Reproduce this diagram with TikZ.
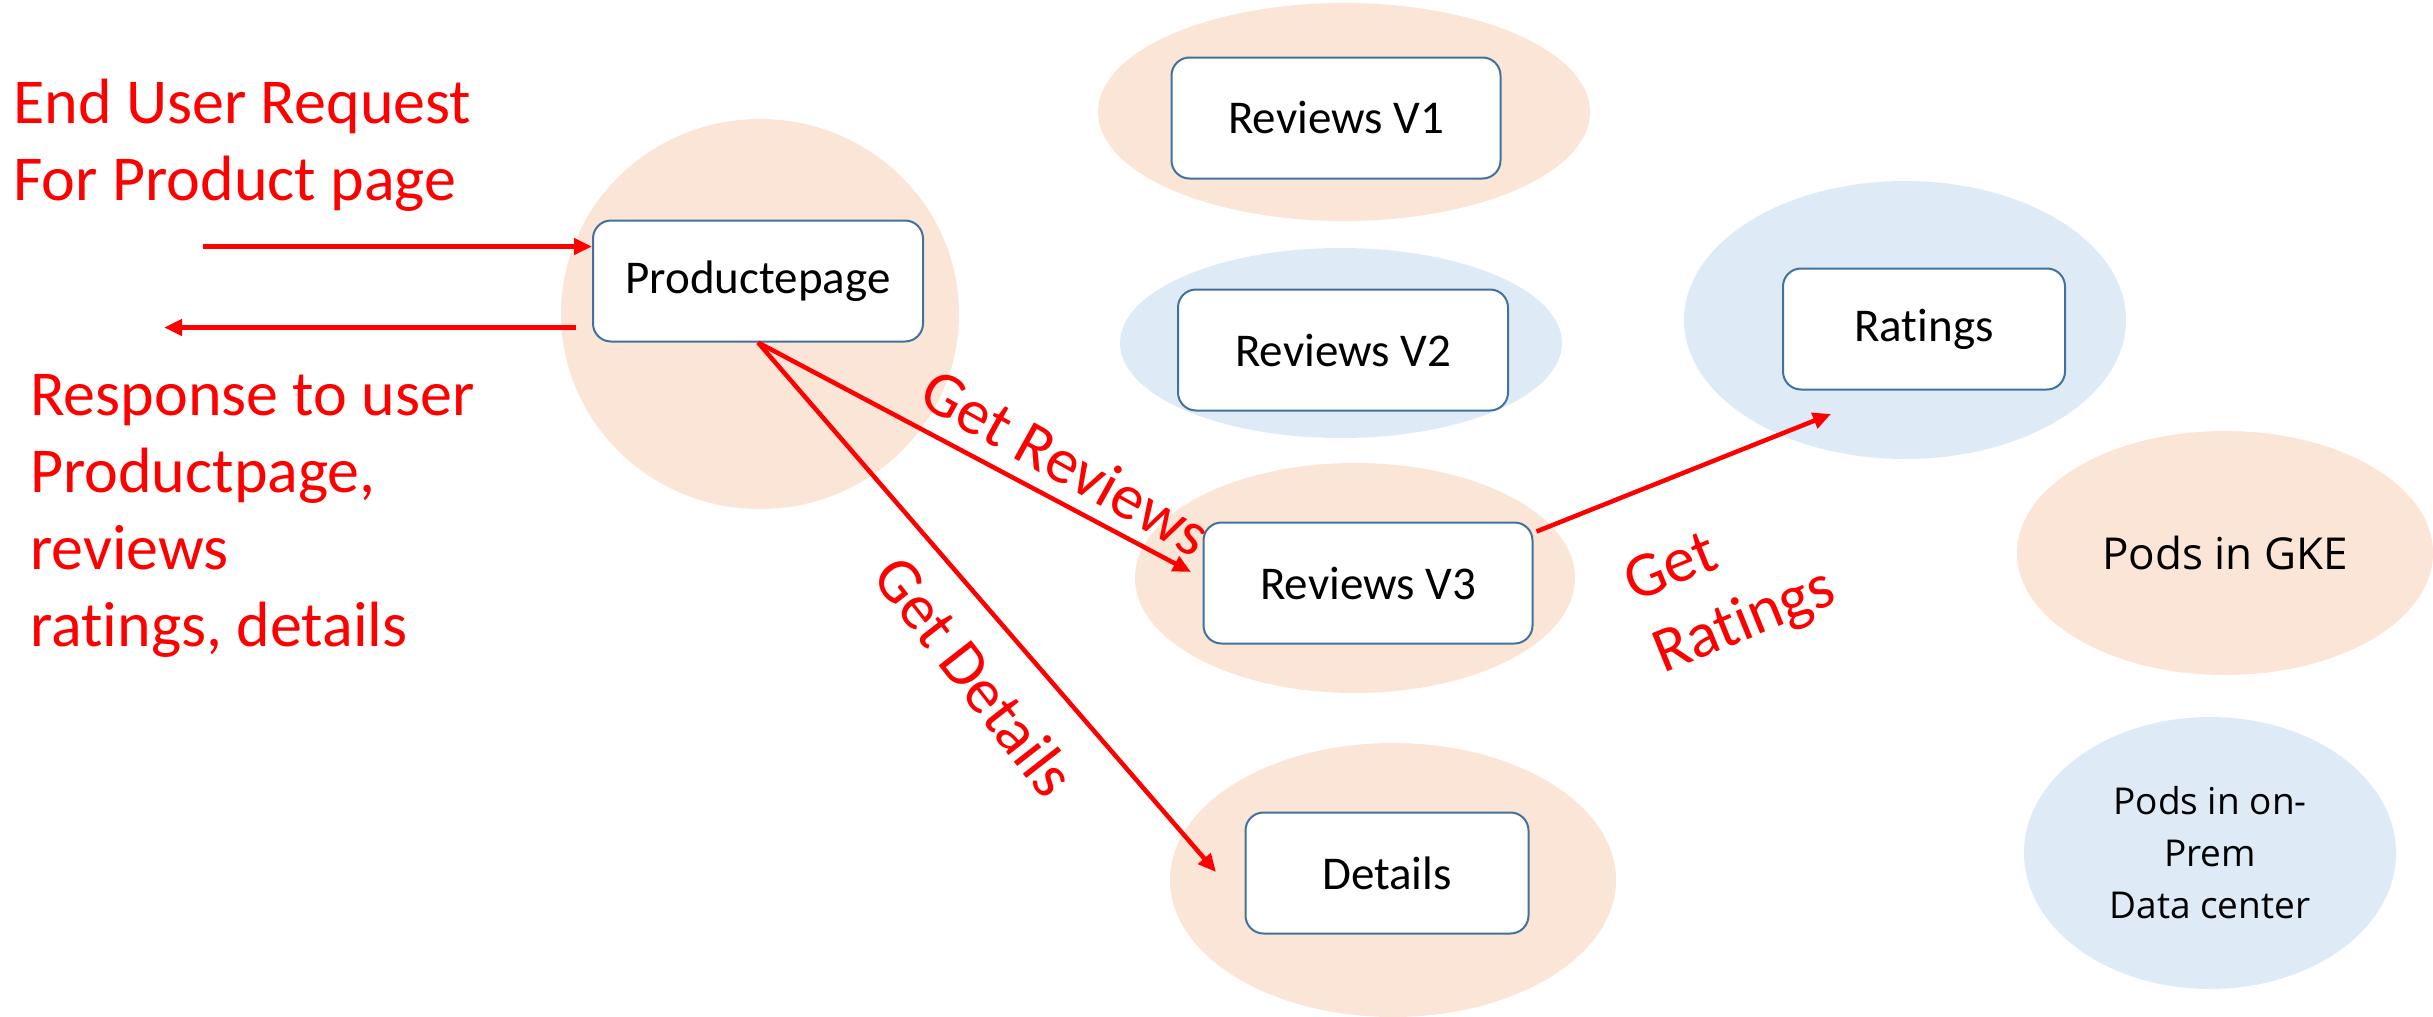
\documentclass[tikz,border=0pt]{standalone}
\usepackage{fontspec}
\setmainfont{Carlito}[Ligatures=CommonOff]
\newfontfamily\podfont{Open Sans}
\usetikzlibrary{arrows.meta,calc,shapes.geometric}
\definecolor{peach}{HTML}{FBE5D6}
\definecolor{paleblue}{HTML}{DEEBF7}
\definecolor{boxline}{HTML}{41719C}
\definecolor{redline}{HTML}{FF0000}
\begin{document}
\begin{tikzpicture}[x=1pt,y=-1pt,
  svcbox/.style={draw=boxline, line width=2pt, fill=white, rounded corners=18pt,
    font=\fontsize{47}{56}\selectfont, inner sep=0pt, minimum height=121pt},
  redtext/.style={text=redline, font=\fontsize{64}{77}\selectfont, inner sep=0pt},
  redarrow/.style={draw=redline, line width=4.5pt, -{Triangle[length=18pt,width=16pt]}},
  podnode/.style={ellipse, inner sep=0pt, align=center}]
\useasboundingbox (0,0) rectangle (2433,1017);

% background ellipses
\fill[peach] (760,314) ellipse [x radius=199, y radius=195];
\fill[peach] (1344,112) ellipse [x radius=246, y radius=109];
\fill[paleblue] (1341,343) ellipse [x radius=221, y radius=95];
\fill[peach] (1355,578) ellipse [x radius=220, y radius=115];
\fill[paleblue] (1905,320) ellipse [x radius=221, y radius=139];
\fill[peach] (1393,880) ellipse [x radius=223, y radius=137];

% legend
\node[podnode, fill=peach, minimum width=416pt, minimum height=244pt,
  font=\podfont\fontsize{44}{52}\selectfont] (gke) at (2225,553) {Pods in GKE};
\node[podnode, fill=paleblue, minimum width=372pt, minimum height=272pt,
  font=\podfont\fontsize{37}{52}\selectfont] (onprem) at (2210,853)
  {Pods in on-\\Prem\\Data center};

% service boxes
\node[svcbox, minimum width=330pt] (pp) at (758,281) {Productepage};
\node[svcbox, minimum width=329pt] (v1) at (1336,118) {Reviews V1};
\node[svcbox, minimum width=330pt] (v2) at (1343,350) {Reviews V2};
\node[svcbox, minimum width=329pt] (v3) at (1368,583) {Reviews V3};
\node[svcbox, minimum width=282pt] (rat) at (1924,329) {Ratings};
\node[svcbox, minimum width=283pt] (det) at (1387,873) {Details};

% red texts
\node[redtext, anchor=base west] (req1) at (13,123) {End User Request};
\node[redtext, anchor=base west] (req2) at (13,200) {For Product page};
\node[redtext, anchor=base west] (res1) at (30,415) {Response to user};
\node[redtext, anchor=base west] (res2) at (30,492) {Productpage,};
\node[redtext, anchor=base west] (res3) at (30,569) {reviews};
\node[redtext, anchor=base west] (res4) at (30,646) {ratings, details};

% connectors
\coordinate (reqstart) at (203,246.5);
\coordinate (respend) at (164,327.5);
\coordinate (revtip) at (1191,572);
\coordinate (dettip) at (1216,872);
\coordinate (rattip) at (1831,414);
\draw[redarrow] (reqstart) -- (pp.west |- reqstart);
\draw[redarrow] ($(pp.west |- respend)+(-16,0)$) -- (respend);
\draw[redarrow] (pp.south) -- (revtip);
\draw[redarrow] (pp.south) -- (dettip);
\draw[redarrow] ($(v3.north east)+(3,10)$) -- (rattip);

% connector labels
\node[redtext, rotate=-29] (lrev) at (1066,462) {Get Reviews};
\node[redtext, rotate=-52] (ldet) at (975,676) {Get Details};
\node[redtext, rotate=22, align=left] (lrat) at (1731,588) {Get\\Ratings};
\end{tikzpicture}
\end{document}
